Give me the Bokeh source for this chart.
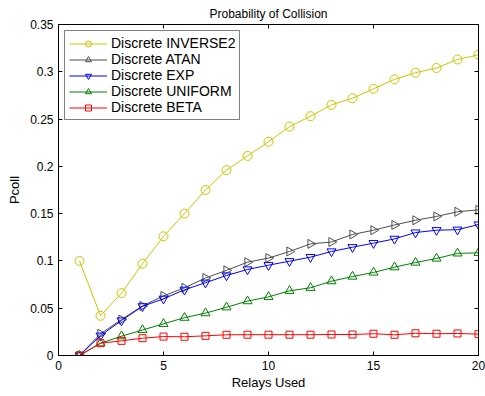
import numpy as np
from bokeh.plotting import figure
from bokeh.models import (LinearAxis, FixedTicker, Range1d, Legend, LegendItem,
                          CustomLabelingPolicy, ColumnDataSource)
from bokeh.embed import file_html
from bokeh.resources import INLINE

relays = list(range(1, 21))
inverse2 = [0.100, 0.042, 0.066, 0.097, 0.126, 0.150, 0.175, 0.196, 0.211, 0.226,
            0.242, 0.253, 0.265, 0.272, 0.282, 0.292, 0.299, 0.304, 0.313, 0.318]
atan = [0.000, 0.023, 0.038, 0.0525, 0.063, 0.0716, 0.082, 0.090, 0.0987, 0.103,
        0.110, 0.118, 0.120, 0.128, 0.1325, 0.138, 0.143, 0.147, 0.152, 0.154]
exp_ = [0.000, 0.021, 0.037, 0.052, 0.060, 0.0695, 0.077, 0.0846, 0.091, 0.0955,
        0.0997, 0.104, 0.110, 0.1145, 0.1188, 0.1233, 0.130, 0.1325, 0.133, 0.1385]
uniform = [0.000, 0.013, 0.0204, 0.027, 0.0335, 0.040, 0.0448, 0.051, 0.0575, 0.062,
           0.0684, 0.0716, 0.0786, 0.0835, 0.0878, 0.0934, 0.0983, 0.1026, 0.108, 0.1086]
beta = [0.000, 0.013, 0.0155, 0.0183, 0.020, 0.0198, 0.0208, 0.0219, 0.022, 0.022,
        0.022, 0.022, 0.0222, 0.0222, 0.023, 0.0219, 0.0235, 0.023, 0.0233, 0.0226]

x_ticks = [0, 5, 10, 15, 20]
y_ticks = [0, 0.05, 0.1, 0.15, 0.2, 0.25, 0.3, 0.35]
y_tick_labels = ["0", "0.05", "0.1", "0.15", "0.2", "0.25", "0.3", "0.35"]
title_text = "Probability of Collision"

FONT = "Liberation Sans"
FRAME_W, FRAME_H = 420, 331
X0, X1, Y0, Y1 = 0, 20, 0, 0.35

p = figure(frame_width=FRAME_W, frame_height=FRAME_H, output_backend="svg",
           toolbar_location=None,
           x_range=Range1d(X0, X1), y_range=Range1d(Y0, Y1),
           title=title_text,
           min_border_left=58, min_border_right=4, min_border_top=24, min_border_bottom=30)
p.grid.visible = False
p.background_fill_color = "white"
p.border_fill_color = "white"
p.outline_line_color = "black"
p.outline_line_width = 1

p.title.align = "center"
p.title.text_font = FONT
p.title.text_font_size = "12px"
p.title.text_font_style = "normal"
p.title.text_color = "black"
p.title.standoff = 8
p.title.offset = 0

def style_axis(ax, ticks, show_labels):
    ax.ticker = FixedTicker(ticks=ticks)
    ax.major_tick_in = 4
    ax.major_tick_out = 0
    ax.minor_tick_line_color = None
    ax.axis_line_color = "black"
    ax.major_tick_line_color = "black"
    ax.major_label_text_font = FONT
    ax.major_label_text_font_size = "12px"
    ax.major_label_text_color = "black"
    ax.axis_label_text_font = FONT
    ax.axis_label_text_font_size = "13px"
    ax.axis_label_text_font_style = "normal"
    ax.axis_label_text_color = "black"
    if not show_labels:
        ax.major_label_standoff = 0
        ax.major_label_policy = CustomLabelingPolicy(
            code="for (const i of Array.from(indices)) indices.unset(i); return indices")

style_axis(p.xaxis[0], x_ticks, True)
style_axis(p.yaxis[0], y_ticks, True)
p.xaxis[0].axis_label = "Relays Used"
p.yaxis[0].axis_label = "Pcoll"
p.xaxis[0].major_label_standoff = 5
p.yaxis[0].major_label_standoff = 5
p.xaxis[0].axis_label_standoff = 2
p.yaxis[0].axis_label_standoff = 5
p.yaxis[0].major_label_overrides = {t: l for t, l in zip(y_ticks, y_tick_labels)}

right_ax = LinearAxis()
style_axis(right_ax, y_ticks, False)
p.add_layout(right_ax, "right")

# inward ticks along the top edge (MATLAB box style)
tick_len = 4 * (Y1 - Y0) / FRAME_H
p.segment(x0=x_ticks, y0=[Y1] * len(x_ticks), x1=x_ticks,
          y1=[Y1 - tick_len] * len(x_ticks), line_color="black", line_width=1)

series = [
    ("Discrete INVERSE2", inverse2, "#c8c800", "circle", 0.0, 9),
    ("Discrete ATAN", atan, "#4d4d4d", "triangle", -90.0, 9),
    ("Discrete EXP", exp_, "#0000ff", "inverted_triangle", 0.0, 9),
    ("Discrete UNIFORM", uniform, "#008000", "triangle", 0.0, 9),
    ("Discrete BETA", beta, "#ff0000", "square", 0.0, 7),
]

items = []
for label, ys, color, marker, ang, size in series:
    src = ColumnDataSource(dict(x=relays, y=ys, a=[ang] * len(relays)))
    lr = p.line("x", "y", source=src, line_color=color, line_width=1)
    sr = p.scatter("x", "y", source=src, marker=marker, size=size, angle="a",
                   angle_units="deg", line_color=color, fill_color=None, line_width=1)
    items.append(LegendItem(label=label, renderers=[lr, sr]))

legend = Legend(items=items, location="top_left")
legend.margin = 6
legend.padding = 4
legend.spacing = 0
legend.glyph_width = 38
legend.glyph_height = 15
legend.label_height = 15
legend.label_standoff = 4
legend.label_text_font = FONT
legend.label_text_font_size = "14px"
legend.label_text_color = "black"
legend.border_line_color = "black"
legend.border_line_width = 1
legend.background_fill_color = "white"
legend.background_fill_alpha = 1
p.add_layout(legend, "center")

open("out.html", "w").write(file_html(p, INLINE))
